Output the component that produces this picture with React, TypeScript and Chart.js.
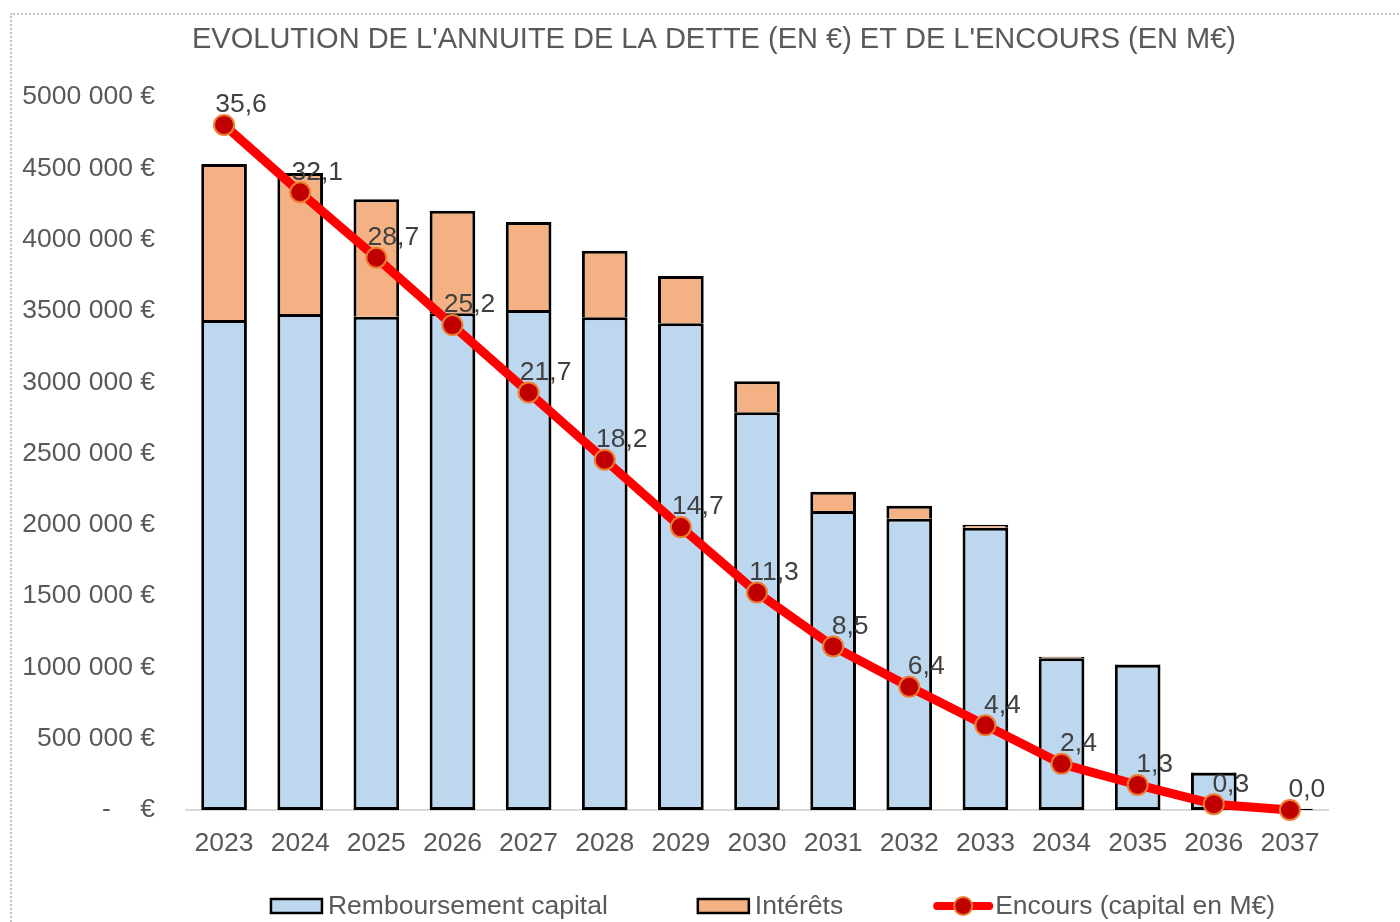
import React, { useEffect, useRef } from "react";
import { Chart, registerables } from "chart.js";

Chart.register(...registerables);

// ---- Data ----
const years = ["2023", "2024", "2025", "2026", "2027", "2028", "2029", "2030", "2031", "2032", "2033", "2034", "2035", "2036", "2037"];
const capital = [3436000, 3478000, 3459000, 3483000, 3506000, 3455000, 3413000, 2789000, 2097000, 2043000, 1980000, 1065000, 1018000, 262000, 8000];
const interets = [1094000, 989000, 824000, 720000, 617000, 467000, 332000, 217000, 135000, 91000, 20000, 10000, 4000, 2000, 1000];
const encours = [35.6, 32.1, 28.7, 25.2, 21.7, 18.2, 14.7, 11.3, 8.5, 6.4, 4.4, 2.4, 1.3, 0.3, 0.0];
const seriesNames = ["Remboursement capital", "Intérêts", "Encours (capital en M€)"];
const yMin = 0;
const yMax = 5000000;
const yStep = 500000;
const encoursMax = 37.05;

const TITLE = "EVOLUTION DE L'ANNUITE DE LA DETTE (EN €) ET DE L'ENCOURS (EN M€)";
const FONT = "'Liberation Sans', Arial, sans-serif";
const TEXT = "#595959";
const LABEL = "#404040";
const FS = 26.5;

function formatEuro(v: number): string {
  if (v === 0) return "-    €";
  const th = Math.round(v / 1000);
  return `${th} 000 €`;
}
function formatM(v: number): string {
  return v.toFixed(1).replace(".", ",");
}

const lineLabels = {
  id: "lineLabels",
  afterDatasetsDraw(chart: any) {
    const meta = chart.getDatasetMeta(2);
    const data = chart.data.datasets[2].data as number[];
    const ctx = chart.ctx;
    ctx.save();
    ctx.font = `${FS}px ${FONT}`;
    ctx.fillStyle = LABEL;
    ctx.textAlign = "center";
    ctx.textBaseline = "middle";
    meta.data.forEach((pt: any, i: number) => {
      ctx.fillText(formatM(data[i]), pt.x + 17, pt.y - 20);
    });
    ctx.restore();
  },
};

const titleAndLegend = {
  id: "titleAndLegend",
  afterDraw(chart: any) {
    const ctx = chart.ctx;
    const ds = chart.data.datasets;
    ctx.save();
    // title
    ctx.font = `29px ${FONT}`;
    ctx.fillStyle = TEXT;
    ctx.textAlign = "center";
    ctx.textBaseline = "middle";
    ctx.fillText(TITLE, (chart.chartArea.left + chart.chartArea.right) / 2 - 43, 40);

    // legend
    ctx.font = `${FS}px ${FONT}`;
    const gap = 90;
    const items = ds.map((d: any) => {
      const isLine = d.type === "line";
      const sw = isLine ? 60 : 51;
      const tg = isLine ? 2 : 6;
      const tw = ctx.measureText(d.label).width;
      return { d, isLine, sw, tg, tw, w: sw + tg + tw };
    });
    const total = items.reduce((a: number, it: any) => a + it.w, 0) + gap * (items.length - 1);
    const cx = (chart.chartArea.left + chart.chartArea.right) / 2 + 16;
    let x = cx - total / 2;
    const y = 906;
    items.forEach((it: any) => {
      const d = it.d;
      if (it.isLine) {
        ctx.strokeStyle = d.borderColor;
        ctx.lineWidth = 8;
        ctx.lineCap = "round";
        ctx.beginPath();
        ctx.moveTo(x + 4, y);
        ctx.lineTo(x + it.sw - 4, y);
        ctx.stroke();
        ctx.beginPath();
        ctx.arc(x + it.sw / 2, y, 9, 0, Math.PI * 2);
        ctx.fillStyle = d.pointBackgroundColor;
        ctx.fill();
        ctx.lineWidth = 2;
        ctx.strokeStyle = d.pointBorderColor;
        ctx.stroke();
      } else {
        ctx.fillStyle = d.backgroundColor;
        ctx.fillRect(x, y - 7, it.sw, 14);
        ctx.strokeStyle = "#000";
        ctx.lineWidth = 2.5;
        ctx.strokeRect(x, y - 7, it.sw, 14);
      }
      ctx.fillStyle = TEXT;
      ctx.textAlign = "left";
      ctx.textBaseline = "middle";
      ctx.fillText(d.label, x + it.sw + it.tg, y + 1);
      x += it.w + gap;
    });
    ctx.restore();
  },
};

export default function App() {
  const ref = useRef<HTMLCanvasElement | null>(null);

  useEffect(() => {
    if (!ref.current) return;
    Chart.defaults.font.family = FONT;
    const chart = new Chart(ref.current, {
      type: "bar",
      data: {
        labels: years,
        datasets: [
          {
            type: "bar",
            label: seriesNames[0],
            data: capital,
            backgroundColor: "#BDD7EE",
            borderColor: "#000000",
            borderWidth: 3,
            borderSkipped: false,
            barPercentage: 0.6,
            categoryPercentage: 1,
            yAxisID: "y",
            order: 2,
          },
          {
            type: "bar",
            label: seriesNames[1],
            data: interets,
            backgroundColor: "#F4B183",
            borderColor: "#000000",
            borderWidth: { top: 3, left: 3, right: 3, bottom: 0 },
            borderSkipped: false,
            barPercentage: 0.6,
            categoryPercentage: 1,
            yAxisID: "y",
            order: 2,
          },
          {
            type: "line",
            label: seriesNames[2],
            data: encours,
            borderColor: "#FF0000",
            borderWidth: 9,
            borderCapStyle: "round",
            borderJoinStyle: "round",
            pointRadius: 10,
            pointBackgroundColor: "#C00000",
            pointBorderColor: "#ED7D31",
            pointBorderWidth: 2,
            tension: 0,
            yAxisID: "y1",
            clip: false,
            order: 0,
          } as any,
        ],
      },
      options: {
        responsive: false,
        animation: false,
        devicePixelRatio: 1,
        layout: { padding: { left: 0, right: 72, top: 97, bottom: 62 } },
        plugins: {
          legend: { display: false },
          tooltip: { enabled: false },
          title: { display: false },
        },
        scales: {
          x: {
            stacked: true,
            grid: { display: false, drawTicks: false },
            border: { display: true, color: "#d9d9d9", width: 2 },
            ticks: { color: TEXT, font: { size: FS }, padding: 18, maxRotation: 0, autoSkip: false },
            afterFit: (s: any) => {
              s.height = 50;
            },
          },
          y: {
            stacked: true,
            min: yMin,
            max: yMax,
            grid: { display: false, drawTicks: false },
            border: { display: false },
            ticks: {
              stepSize: yStep,
              color: TEXT,
              font: { size: FS },
              padding: 31,
              callback: (v: any) => formatEuro(Number(v)),
            },
            afterFit: (s: any) => {
              s.width = 186;
            },
          },
          y1: {
            display: false,
            min: 0,
            max: encoursMax,
            position: "right",
            stacked: false,
          },
        },
      },
      plugins: [lineLabels, titleAndLegend],
    });
    return () => chart.destroy();
  }, []);

  return (
    <div>
      <div
        style={{
          position: "fixed",
          left: 10,
          top: 13,
          width: 1430,
          height: 950,
          borderLeft: "2px dotted #c4c4c4",
          borderTop: "2px dotted #c4c4c4",
        }}
      />
      <canvas
        ref={ref}
        width={1400}
        height={922}
        style={{ position: "fixed", left: 0, top: 0, width: 1400, height: 922 }}
      />
    </div>
  );
}
